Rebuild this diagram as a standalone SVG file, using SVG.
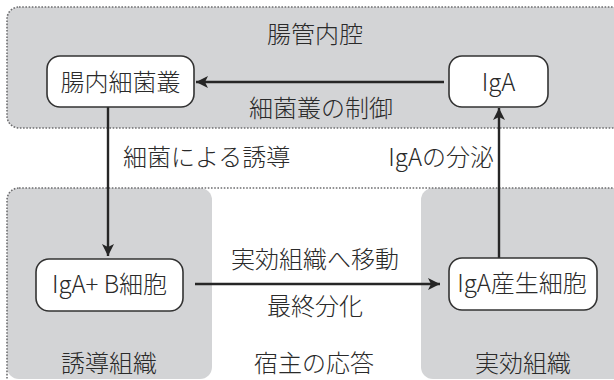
<svg xmlns="http://www.w3.org/2000/svg" width="614" height="380" viewBox="0 0 614 380">
  <style>
    .panel { fill: #d3d4d6; }
    .frame { fill: none; stroke: #6e6e70; stroke-width: 1.6; stroke-dasharray: 1.6 1.6; }
    .node rect { fill: #ffffff; stroke: #333333; stroke-width: 1.6; }
    text { font-family: "Noto Sans CJK JP", "Noto Sans", sans-serif; font-size: 24px; font-weight: 300; fill: #2a2a2a; text-anchor: middle; }
    .conn { stroke: #262626; stroke-width: 2.4; fill: none; }
  </style>
  <defs>
    <marker id="ah" markerUnits="userSpaceOnUse" markerWidth="14" markerHeight="12" refX="12" refY="6" orient="auto">
      <path d="M0,0 L12,6 L0,12 L3,6 Z" fill="#262626"/>
    </marker>
  </defs>
  <rect width="614" height="380" fill="#ffffff"/>
  <g id="lumen">
    <rect class="panel" x="7" y="7" width="630" height="121" rx="12"/>
    <rect class="frame" x="7" y="7" width="630" height="121" rx="12"/>
    <text x="315" y="43">腸管内腔</text>
  </g>
  <g id="host">
    <rect x="7" y="188" width="630" height="220" rx="12" fill="#ffffff"/>
    <rect class="panel" x="7" y="188" width="205" height="191" rx="12"/>
    <rect class="panel" x="421" y="188" width="220" height="191" rx="12"/>
    <rect class="frame" x="7" y="188" width="630" height="220" rx="12"/>
    <text x="109" y="372">誘導組織</text>
    <text x="314" y="372">宿主の応答</text>
    <text x="523" y="372">実効組織</text>
  </g>
  <g id="connectors">
    <line class="conn" x1="444" y1="82" x2="196" y2="82" marker-end="url(#ah)"/>
    <line class="conn" x1="108" y1="107" x2="108" y2="256" marker-end="url(#ah)"/>
    <line class="conn" x1="195" y1="284" x2="440" y2="284" marker-end="url(#ah)"/>
    <line class="conn" x1="499" y1="258" x2="499" y2="108" marker-end="url(#ah)"/>
    <text x="321" y="117">細菌叢の制御</text>
    <text x="123" y="166" style="text-anchor:start">細菌による誘導</text>
    <text x="494" y="166" style="text-anchor:end">IgAの分泌</text>
    <text x="315" y="268">実効組織へ移動</text>
    <text x="315" y="315">最終分化</text>
  </g>
  <g id="node-flora" class="node">
    <rect x="47" y="56" width="147" height="51" rx="13"/>
    <text x="120.5" y="91">腸内細菌叢</text>
  </g>
  <g id="node-iga" class="node">
    <rect x="449" y="56" width="99" height="51" rx="13"/>
    <text x="498.5" y="91">IgA</text>
  </g>
  <g id="node-bcell" class="node">
    <rect x="36" y="259" width="147" height="52" rx="13"/>
    <text x="109.5" y="293">IgA+ B細胞</text>
  </g>
  <g id="node-plasma" class="node">
    <rect x="449" y="258" width="148" height="52" rx="13"/>
    <text x="522" y="292">IgA産生細胞</text>
  </g>
</svg>
